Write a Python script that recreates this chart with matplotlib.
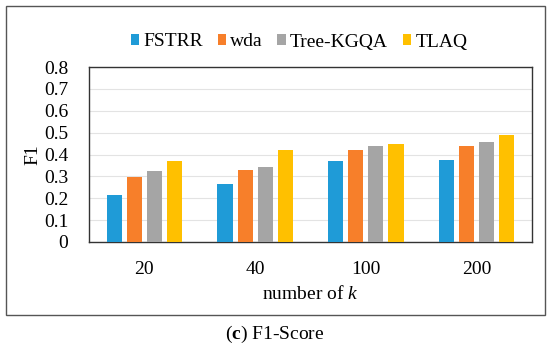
import matplotlib.pyplot as plt
import numpy as np
from matplotlib.patches import Rectangle

plt.rcParams['font.family'] = ['Liberation Serif', 'DejaVu Serif']
plt.rcParams['mathtext.fontset'] = 'custom'
plt.rcParams['mathtext.rm'] = 'Liberation Serif'
plt.rcParams['mathtext.it'] = 'Liberation Serif:italic'
plt.rcParams['mathtext.bf'] = 'Liberation Serif:bold'

# data
k_labels = ['20', '40', '100', '200']
methods = ['FSTRR', 'wda', 'Tree-KGQA', 'TLAQ']
fstrr = [0.214, 0.264, 0.370, 0.376]
wda = [0.295, 0.327, 0.420, 0.438]
tree_kgqa = [0.326, 0.345, 0.438, 0.458]
tlaq = [0.370, 0.420, 0.447, 0.490]
colors = ['#1F9BD7', '#F77F2A', '#A5A5A5', '#FFC000']

fig = plt.figure(figsize=(5.5, 3.46), dpi=100)
W, H = 550, 346
fs = 14

# plot area in pixels: x 89..532, y 67..242
ax = fig.add_axes([89 / W, 1 - 242 / H, (532 - 89) / W, (242 - 67) / H])

x = np.arange(len(k_labels))
step = 0.181
width = 0.137
series = [fstrr, wda, tree_kgqa, tlaq]
for i, (name, vals) in enumerate(zip(methods, series)):
    ax.bar(x + (i - 1.5) * step, vals, width, color=colors[i], label=name, zorder=3)

ax.set_xlim(-0.5, len(k_labels) - 0.5)
ax.set_ylim(0, 0.8)
ax.set_yticks(np.arange(0, 0.81, 0.1))
ax.set_yticklabels(['0'] + [f'{v:.1f}' for v in np.arange(0.1, 0.81, 0.1)])
ax.set_xticks(x)
ax.set_xticklabels(k_labels)
ax.tick_params(length=0, labelsize=fs)
ax.tick_params(axis='y', pad=15)
ax.tick_params(axis='x', pad=14)
ax.grid(axis='y', color='#E3E3E3', linewidth=0.8, zorder=0)
for s in ax.spines.values():
    s.set_color('#333333')
    s.set_linewidth(1.0)

ax.set_xlabel('number of $\\mathit{k}$', fontsize=fs, labelpad=5)
ax.set_ylabel('F1', fontsize=fs, labelpad=2)

leg = fig.legend(loc='center', bbox_to_anchor=(299 / W, 1 - 42 / H), ncol=4,
                 frameon=False, fontsize=fs, handlelength=0.45, handleheight=0.45,
                 handletextpad=0.2, columnspacing=0.75)

# outer frame around the chart
fig.patches.append(Rectangle((6 / W, 1 - 315 / H), (545 - 6) / W, (315 - 6) / H,
                             transform=fig.transFigure, fill=False,
                             edgecolor='#555555', linewidth=1.0))

fig.text(0.5, 1 - 334 / H, r'($\mathbf{c}$) F1-Score', ha='center', va='center', fontsize=fs)

fig.savefig('out.png', dpi=100)
